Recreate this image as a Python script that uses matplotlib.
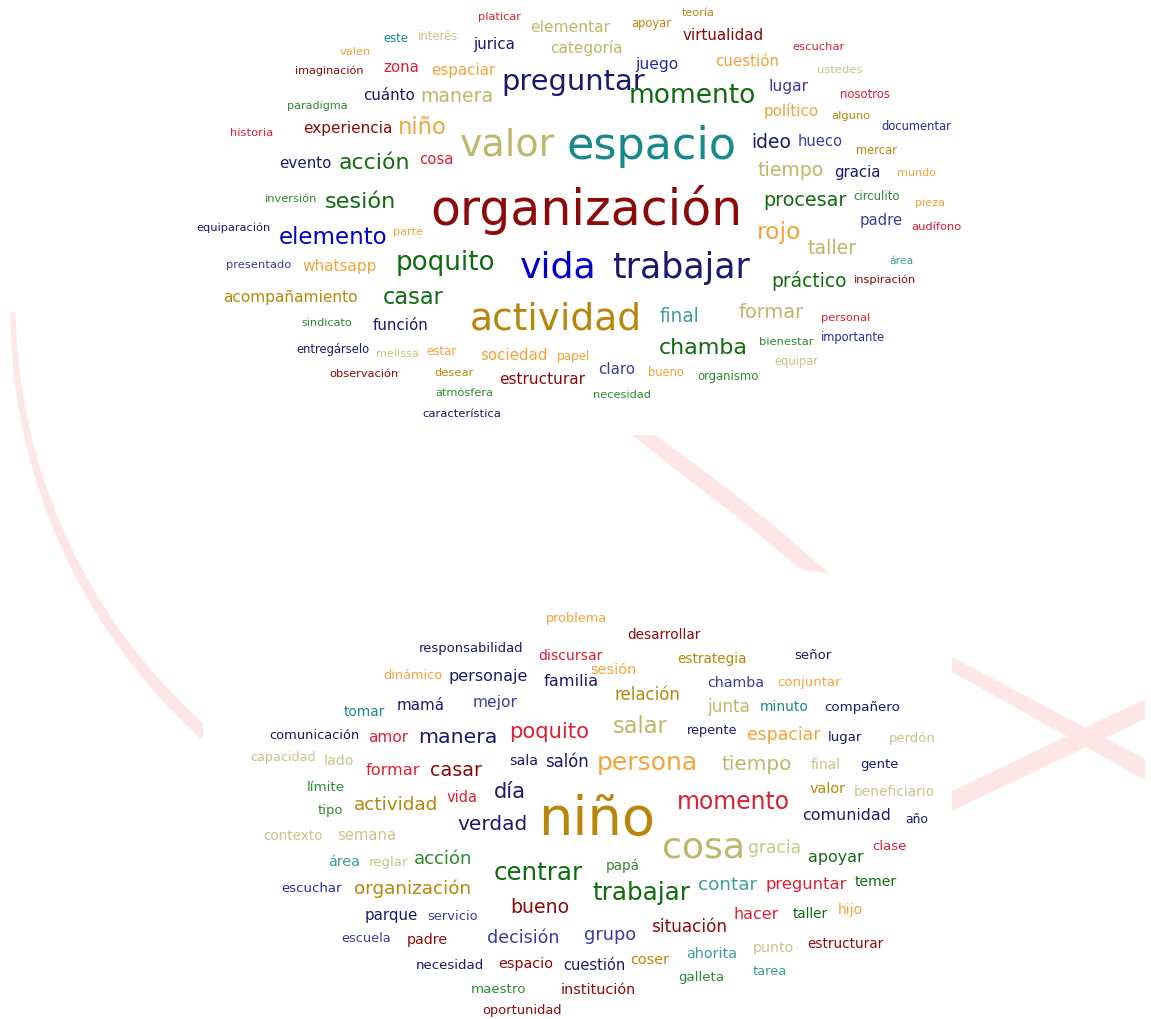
import matplotlib
matplotlib.use('Agg')
import matplotlib.pyplot as plt
import numpy as np

W, H = 1151, 1020

# colour names used by the two clouds
palette = {
    "red": "#dc1f35", "dred": "#8b0a0a", "orange": "#f2a33a", "gold": "#b8860b",
    "khaki": "#bdb76b", "lkhaki": "#c8c48a", "teal": "#178a8a", "cadet": "#3f9c9c",
    "navy": "#191970", "blue": "#0000cd", "blue2": "#2a2aa5", "slate": "#3c3ca0",
    "dgreen": "#0e6b0e", "green": "#2e8b2e",
}

# word, left x, right x, centre y (pixels of the picture), colour
top_cloud = [
    ("platicar", 478, 521, 17, "red"), ("elementar", 530, 610, 27, "khaki"),
    ("teoría", 682, 715, 13, "gold"), ("apoyar", 631, 671, 24, "gold"),
    ("virtualidad", 683, 764, 36, "dred"), ("escuchar", 793, 845, 47, "red"),
    ("este", 383, 408, 39, "teal"), ("interés", 418, 458, 37, "lkhaki"),
    ("jurica", 473, 515, 45, "navy"), ("categoría", 550, 622, 48, "khaki"),
    ("valen", 340, 371, 52, "orange"), ("juego", 635, 678, 64, "blue2"),
    ("cuestión", 715, 779, 62, "orange"), ("ustedes", 817, 862, 70, "lkhaki"),
    ("imaginación", 295, 364, 71, "dred"), ("zona", 383, 419, 68, "red"),
    ("espaciar", 431, 495, 71, "orange"), ("preguntar", 502, 645, 82, "navy"),
    ("momento", 629, 756, 96, "dgreen"), ("lugar", 769, 809, 86, "slate"),
    ("nosotros", 840, 890, 94, "red"), ("cuánto", 363, 415, 95, "navy"),
    ("manera", 420, 493, 97, "khaki"), ("paradigma", 287, 348, 106, "green"),
    ("político", 764, 819, 111, "orange"), ("alguno", 831, 870, 116, "gold"),
    ("documentar", 881, 951, 126, "blue2"), ("historia", 230, 273, 133, "red"),
    ("experiencia", 303, 392, 129, "dred"), ("niño", 398, 447, 128, "orange"),
    ("valor", 460, 555, 145, "khaki"), ("espacio", 567, 737, 147, "teal"),
    ("ideo", 751, 791, 143, "navy"), ("hueco", 798, 843, 142, "slate"),
    ("mercar", 856, 897, 151, "gold"), ("evento", 279, 331, 163, "navy"),
    ("acción", 339, 410, 163, "dgreen"), ("cosa", 419, 453, 159, "red"),
    ("tiempo", 758, 824, 171, "khaki"), ("gracia", 834, 880, 173, "navy"),
    ("mundo", 897, 936, 173, "orange"), ("inversión", 265, 317, 199, "green"),
    ("sesión", 325, 396, 202, "dgreen"), ("organización", 430, 742, 210, "dred"),
    ("procesar", 763, 846, 200, "dgreen"), ("circulito", 854, 900, 196, "green"),
    ("pieza", 915, 945, 203, "orange"), ("equiparación", 197, 271, 228, "navy"),
    ("elemento", 279, 387, 237, "blue"), ("parte", 393, 423, 232, "orange"),
    ("padre", 860, 903, 220, "slate"), ("audífono", 911, 961, 227, "red"),
    ("rojo", 757, 801, 233, "orange"), ("taller", 808, 857, 248, "khaki"),
    ("área", 890, 914, 261, "cadet"), ("presentado", 226, 291, 265, "slate"),
    ("whatsapp", 303, 377, 267, "orange"), ("poquito", 396, 495, 263, "dgreen"),
    ("vida", 520, 597, 268, "blue"), ("trabajar", 612, 750, 268, "navy"),
    ("práctico", 772, 847, 281, "dgreen"), ("inspiración", 854, 916, 280, "dred"),
    ("acompañamiento", 223, 357, 298, "gold"), ("casar", 383, 444, 298, "dgreen"),
    ("actividad", 470, 642, 320, "gold"), ("final", 660, 700, 317, "cadet"),
    ("formar", 739, 804, 313, "khaki"), ("personal", 821, 870, 318, "red"),
    ("sindicato", 301, 352, 323, "green"), ("función", 373, 429, 326, "navy"),
    ("chamba", 659, 748, 348, "dgreen"), ("bienestar", 759, 813, 342, "green"),
    ("importante", 821, 885, 338, "blue2"), ("entregárselo", 296, 369, 350, "navy"),
    ("melissa", 376, 419, 354, "lkhaki"), ("estar", 427, 457, 352, "orange"),
    ("sociedad", 480, 547, 356, "orange"), ("papel", 557, 590, 357, "orange"),
    ("equipar", 774, 818, 362, "lkhaki"), ("claro", 598, 635, 370, "slate"),
    ("bueno", 648, 684, 373, "orange"), ("organismo", 698, 759, 377, "green"),
    ("observación", 330, 399, 374, "dred"), ("desear", 435, 474, 373, "gold"),
    ("estructurar", 499, 585, 380, "dred"), ("atmósfera", 435, 493, 393, "green"),
    ("necesidad", 593, 651, 395, "green"), ("característica", 423, 501, 414, "navy"),
]

bottom_cloud = [
    ("problema", 546, 607, 619, "orange"), ("desarrollar", 627, 700, 635, "dred"),
    ("responsabilidad", 419, 523, 649, "navy"), ("discursar", 538, 602, 656, "red"),
    ("estrategia", 678, 747, 659, "gold"), ("señor", 794, 831, 656, "navy"),
    ("dinámico", 383, 442, 676, "orange"), ("personaje", 449, 528, 677, "navy"),
    ("familia", 544, 599, 682, "navy"), ("sesión", 590, 636, 670, "orange"),
    ("chamba", 707, 764, 683, "slate"), ("conjuntar", 778, 841, 683, "orange"),
    ("relación", 614, 680, 695, "gold"), ("tomar", 344, 385, 712, "teal"),
    ("mamá", 397, 445, 706, "navy"), ("mejor", 473, 518, 703, "slate"),
    ("junta", 707, 750, 707, "khaki"), ("minuto", 760, 809, 707, "teal"),
    ("compañero", 825, 900, 708, "navy"), ("salar", 613, 668, 727, "khaki"),
    ("repente", 687, 737, 731, "navy"), ("espaciar", 747, 820, 735, "orange"),
    ("lugar", 828, 862, 738, "navy"), ("perdón", 889, 935, 739, "lkhaki"),
    ("comunicación", 269, 359, 736, "navy"), ("amor", 368, 408, 738, "red"),
    ("manera", 418, 497, 738, "navy"), ("poquito", 509, 589, 732, "red"),
    ("capacidad", 251, 316, 758, "lkhaki"), ("lado", 324, 354, 761, "lkhaki"),
    ("sala", 509, 538, 761, "navy"), ("salón", 545, 589, 762, "navy"),
    ("persona", 597, 698, 763, "orange"), ("tiempo", 722, 792, 765, "khaki"),
    ("final", 811, 841, 765, "lkhaki"), ("gente", 860, 898, 765, "navy"),
    ("formar", 366, 420, 771, "red"), ("casar", 430, 482, 771, "dred"),
    ("límite", 307, 345, 788, "green"), ("valor", 810, 846, 789, "gold"),
    ("beneficiario", 854, 935, 792, "lkhaki"), ("día", 494, 526, 792, "navy"),
    ("vida", 447, 478, 798, "red"), ("momento", 677, 790, 802, "red"),
    ("actividad", 354, 438, 805, "gold"), ("tipo", 318, 343, 811, "green"),
    ("niño", 538, 655, 820, "gold"), ("comunidad", 803, 891, 816, "navy"),
    ("año", 905, 928, 820, "navy"), ("verdad", 458, 528, 825, "navy"),
    ("contexto", 263, 322, 836, "lkhaki"), ("semana", 337, 396, 836, "lkhaki"),
    ("cosa", 662, 745, 848, "khaki"), ("gracia", 748, 801, 848, "lkhaki"),
    ("clase", 872, 906, 847, "red"), ("apoyar", 808, 863, 858, "dgreen"),
    ("área", 328, 360, 862, "cadet"), ("reglar", 369, 408, 863, "lkhaki"),
    ("acción", 414, 472, 859, "green"), ("papá", 606, 640, 866, "green"),
    ("centrar", 494, 583, 873, "dgreen"), ("contar", 698, 757, 885, "cadet"),
    ("preguntar", 766, 847, 885, "red"), ("temer", 855, 897, 882, "dgreen"),
    ("escuchar", 282, 342, 889, "blue2"), ("organización", 354, 471, 889, "gold"),
    ("trabajar", 592, 690, 893, "dgreen"), ("bueno", 510, 569, 908, "dred"),
    ("hacer", 734, 779, 915, "red"), ("taller", 793, 828, 914, "dgreen"),
    ("hijo", 838, 863, 910, "orange"), ("parque", 365, 418, 916, "navy"),
    ("servicio", 428, 478, 917, "slate"), ("situación", 651, 727, 927, "dred"),
    ("decisión", 487, 559, 938, "slate"), ("grupo", 584, 636, 935, "slate"),
    ("escuela", 342, 391, 939, "slate"), ("padre", 407, 448, 940, "dred"),
    ("punto", 753, 794, 948, "lkhaki"), ("estructurar", 807, 883, 944, "dred"),
    ("ahorita", 686, 737, 954, "cadet"), ("coser", 630, 669, 960, "gold"),
    ("necesidad", 416, 484, 966, "navy"), ("espacio", 498, 553, 964, "dred"),
    ("cuestión", 563, 625, 966, "navy"), ("galleta", 678, 724, 978, "green"),
    ("tarea", 753, 787, 972, "cadet"), ("maestro", 471, 526, 990, "green"),
    ("institución", 561, 636, 990, "dred"), ("oportunidad", 483, 562, 1011, "dred"),
]

fig = plt.figure(figsize=(W / 100, H / 100), dpi=100)
ax = fig.add_axes([0, 0, 1, 1])
ax.set_xlim(0, W)
ax.set_ylim(H, 0)
ax.axis('off')

# faint pink watermark strokes behind the clouds
pink = '#fde6e6'
# left arc: part of a big circle, thin at the top and wider lower down
ang = np.radians(np.linspace(179.5, 131.5, 60))
thick = np.linspace(5, 13, 60)
r = 570
xo = 583 + (r + thick / 2) * np.cos(ang)
yo = 308 + (r + thick / 2) * np.sin(ang)
xi = 583 + (r - thick / 2) * np.cos(ang)
yi = 308 + (r - thick / 2) * np.sin(ang)
arc_x = np.concatenate([xo, xi[::-1]])
arc_y = np.concatenate([yo, yi[::-1]])
patch = ax.fill(arc_x, arc_y, color=pink, lw=0, zorder=0)[0]
clip = plt.Rectangle((0, 300), 203, 460, transform=ax.transData)
patch.set_clip_path(clip)

ax.fill([632, 690, 745, 800, 830, 778, 715, 655],
        [436, 482, 524, 570, 575, 530, 480, 436], color=pink, lw=0, zorder=0)
ax.fill([952, 1145, 1145, 952], [658, 760, 781, 673], color=pink, lw=0, zorder=0)
ax.fill([952, 1145, 1145, 952], [792, 700, 720, 812], color=pink, lw=0, zorder=0)

renderer = fig.canvas.get_renderer()
ref = 20.0
for cloud in (top_cloud, bottom_cloud):
    for word, x0, x1, y, c in cloud:
        t = ax.text((x0 + x1) / 2, y, word, fontsize=ref, color=palette[c],
                    ha='center', va='center', family='DejaVu Sans', zorder=2)
        w = t.get_window_extent(renderer).width
        t.set_fontsize(ref * (x1 - x0) / w)

fig.savefig('out.png', dpi=100, facecolor='white')
